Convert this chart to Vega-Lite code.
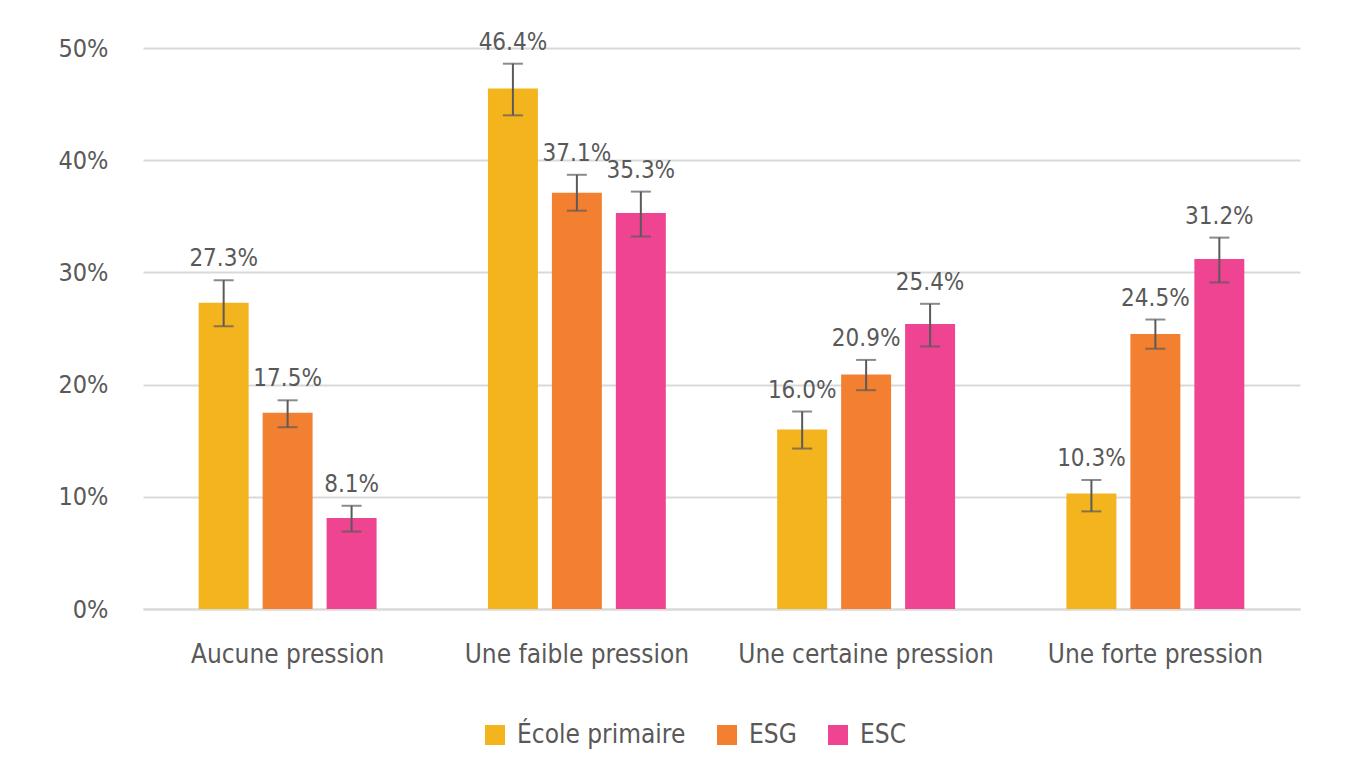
{
  "$schema": "https://vega.github.io/schema/vega-lite/v6.json",
  "width": 1157,
  "height": 561,
  "autosize": {"type": "none"},
  "padding": {"left": 143, "top": 48, "right": 52, "bottom": 174},
  "background": "white",
  "config": {
    "view": {"stroke": null},
    "font": "DejaVu Sans Condensed",
    "axis": {"labelFont": "DejaVu Sans Condensed", "labelColor": "#595959"},
    "legend": {"labelFont": "DejaVu Sans Condensed"}
  },
  "data": {
    "values": [
      {"cat": "Aucune pression", "serie": "École primaire", "v": 0.273, "lo": 0.252, "hi": 0.293},
      {"cat": "Aucune pression", "serie": "ESG", "v": 0.175, "lo": 0.162, "hi": 0.186},
      {"cat": "Aucune pression", "serie": "ESC", "v": 0.081, "lo": 0.069, "hi": 0.092},
      {"cat": "Une faible pression", "serie": "École primaire", "v": 0.464, "lo": 0.440, "hi": 0.486},
      {"cat": "Une faible pression", "serie": "ESG", "v": 0.371, "lo": 0.355, "hi": 0.387},
      {"cat": "Une faible pression", "serie": "ESC", "v": 0.353, "lo": 0.332, "hi": 0.372},
      {"cat": "Une certaine pression", "serie": "École primaire", "v": 0.160, "lo": 0.143, "hi": 0.176},
      {"cat": "Une certaine pression", "serie": "ESG", "v": 0.209, "lo": 0.195, "hi": 0.222},
      {"cat": "Une certaine pression", "serie": "ESC", "v": 0.254, "lo": 0.234, "hi": 0.272},
      {"cat": "Une forte pression", "serie": "École primaire", "v": 0.103, "lo": 0.087, "hi": 0.115},
      {"cat": "Une forte pression", "serie": "ESG", "v": 0.245, "lo": 0.232, "hi": 0.258},
      {"cat": "Une forte pression", "serie": "ESC", "v": 0.312, "lo": 0.291, "hi": 0.331}
    ]
  },
  "encoding": {
    "x": {
      "field": "cat", "type": "nominal", "sort": null,
      "scale": {"paddingInner": 0.385, "paddingOuter": 0.1925},
      "axis": {"title": null, "labelAngle": 0, "labelFontSize": 26, "labelLimit": 0, "labelPadding": 32, "ticks": false, "domain": true, "domainColor": "#d9d9d9", "domainWidth": 2, "grid": false}
    },
    "xOffset": {
      "field": "serie", "type": "nominal", "sort": ["École primaire", "ESG", "ESC"],
      "scale": {"paddingInner": 0.219, "paddingOuter": 0}
    }
  },
  "layer": [
    {
      "mark": {"type": "bar"},
      "encoding": {
        "y": {
          "field": "v", "type": "quantitative",
          "scale": {"domain": [0, 0.5]},
          "axis": {"title": null, "values": [0, 0.1, 0.2, 0.3, 0.4, 0.5], "format": ".0%", "labelFontSize": 25, "labelPadding": 35, "ticks": false, "domain": false, "gridColor": "#d9d9d9", "gridWidth": 2}
        },
        "color": {
          "field": "serie", "type": "nominal", "sort": ["École primaire", "ESG", "ESC"],
          "scale": {"domain": ["École primaire", "ESG", "ESC"], "range": ["#F3B41D", "#F37F30", "#EE4491"]},
          "legend": {
            "title": null, "orient": "none", "direction": "horizontal",
            "legendX": 339, "legendY": 674,
            "symbolType": "square", "symbolSize": 400, "symbolStrokeWidth": 0,
            "labelFontSize": 26, "labelLimit": 0, "labelColor": "#595959", "labelOffset": 9,
            "columnPadding": 28
          }
        }
      }
    },
    {
      "mark": {"type": "rule", "color": "#5a5a5a", "strokeWidth": 2},
      "encoding": {
        "y": {"field": "lo", "type": "quantitative"},
        "y2": {"field": "hi"}
      }
    },
    {
      "mark": {"type": "tick", "color": "#5a5a5a", "thickness": 2, "size": 20, "orient": "horizontal"},
      "encoding": {"y": {"field": "lo", "type": "quantitative"}}
    },
    {
      "mark": {"type": "tick", "color": "#5a5a5a", "thickness": 2, "size": 20, "orient": "horizontal"},
      "encoding": {"y": {"field": "hi", "type": "quantitative"}}
    },
    {
      "mark": {"type": "text", "color": "#595959", "fontSize": 24, "baseline": "alphabetic", "dy": -14},
      "encoding": {
        "y": {"field": "hi", "type": "quantitative"},
        "text": {"field": "v", "type": "quantitative", "format": ".1%"}
      }
    }
  ]
}
